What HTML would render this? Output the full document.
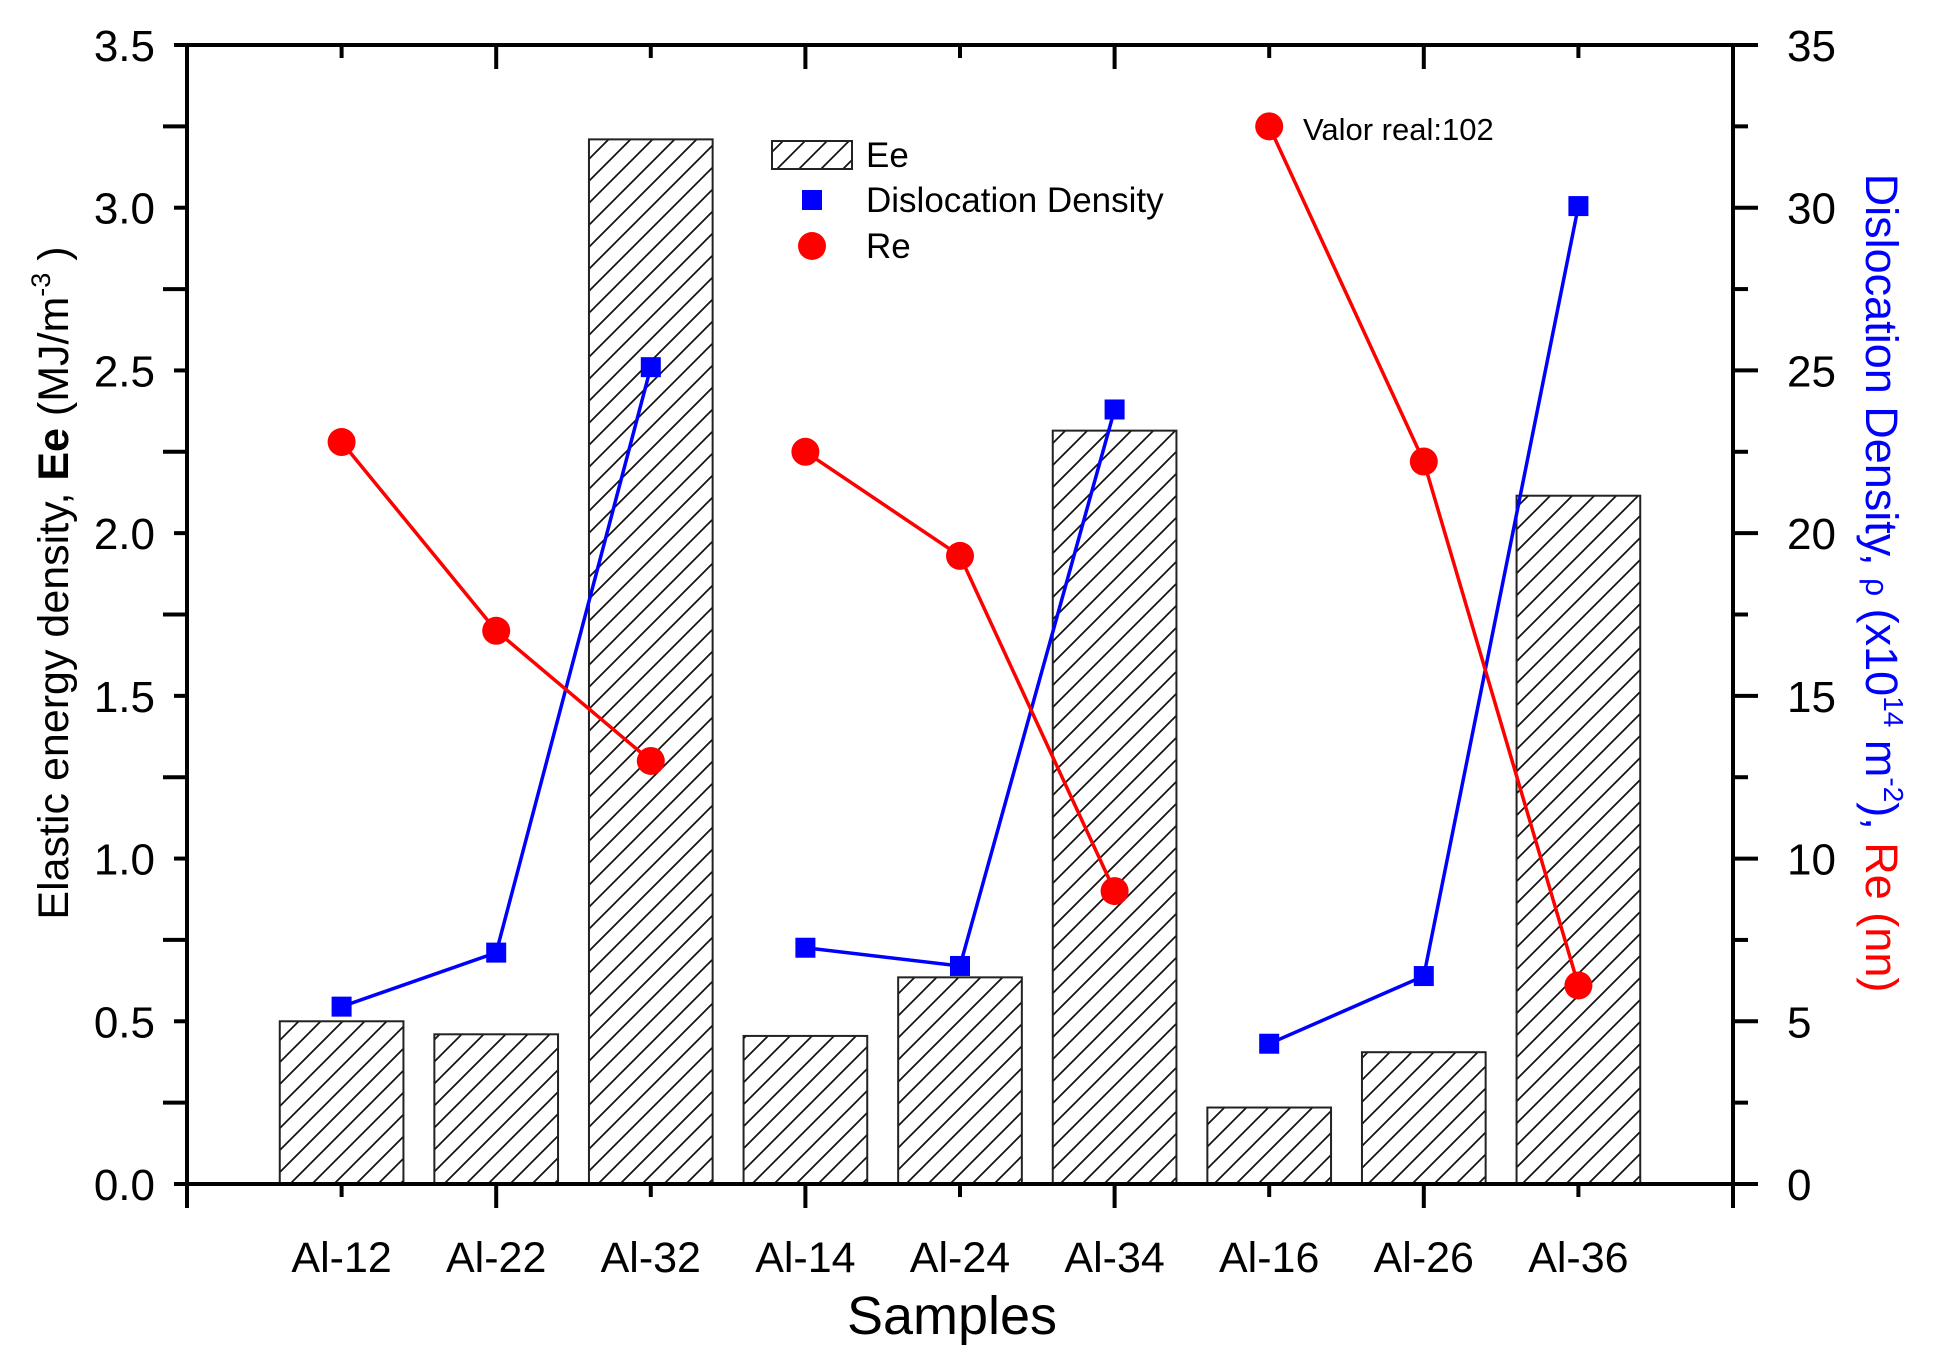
<!DOCTYPE html>
<html><head><meta charset="utf-8"><style>
html,body{margin:0;padding:0;background:#fff;}
svg{display:block;font-family:"Liberation Sans",Arial,sans-serif;}
</style></head><body>
<svg id="chart" width="1934" height="1371" viewBox="0 0 1934 1371" xmlns="http://www.w3.org/2000/svg">
<defs>
<pattern id="hatch" patternUnits="userSpaceOnUse" width="22" height="22">
<path d="M-2,2 L2,-2 M0,22 L22,0 M20,24 L24,20" stroke="#111" stroke-width="1.7"/>
</pattern>
</defs>
<g id="bars"></g>
<g id="lines"></g>
<g id="axes"></g>
<g id="legend">
<rect x="772" y="141" width="80" height="28" fill="url(#hatch)" stroke="#222" stroke-width="2"/>
<text x="866" y="167" font-size="35">Ee</text>
<rect x="802" y="190" width="20" height="20" fill="#0000ff"/>
<text x="866" y="212" font-size="35">Dislocation Density</text>
<circle cx="812" cy="246" r="14" fill="#ff0000"/>
<text x="866" y="258" font-size="35">Re</text>
</g>
<text x="1303" y="140" font-size="31">Valor real:102</text>
<text x="952" y="1334" font-size="54" text-anchor="middle">Samples</text>
<text transform="translate(68,583) rotate(-90)" font-size="43" text-anchor="middle">Elastic energy density, <tspan font-weight="bold">Ee</tspan> (MJ/m<tspan font-size="27" dy="-18">-3</tspan><tspan dy="18"> )</tspan></text>
<text transform="translate(1866,583) rotate(90)" font-size="45" text-anchor="middle"><tspan fill="#0000ff">Dislocation Density, <tspan font-size="32">ρ</tspan> (x10<tspan font-size="28" dy="-18">14</tspan><tspan dy="18"> m</tspan><tspan font-size="28" dy="-18">-2</tspan><tspan dy="18">), </tspan></tspan><tspan fill="#ff0000">Re (nn)</tspan></text>
</svg>
<script>
const categories = ["Al-12","Al-22","Al-32","Al-14","Al-24","Al-34","Al-16","Al-26","Al-36"];
const eeValues = [0.50,0.46,3.21,0.455,0.635,2.315,0.235,0.405,2.115];
const ddValues = [5.45,7.11,25.1,7.26,6.70,23.8,4.31,6.39,30.05];
const reValues = [22.8,17.0,13.0,22.5,19.3,9.0,32.5,22.2,6.1];
const groups = [[0,1,2],[3,4,5],[6,7,8]];
const leftTicks = ["0.0","0.5","1.0","1.5","2.0","2.5","3.0","3.5"];
const rightTicks = ["0","5","10","15","20","25","30","35"];

const X0=187,X1=1733,Y0=1184,Y1=45;
const NS="http://www.w3.org/2000/svg";
function xs(i){return X0+(i)*(X1-X0)/10;}
function yl(v){return Y0-v*(Y0-Y1)/3.5;}
function yr(v){return Y0-v*(Y0-Y1)/35;}
function mk(tag,attrs,parent){const e=document.createElementNS(NS,tag);for(const k in attrs)e.setAttribute(k,attrs[k]);parent.appendChild(e);return e;}
const bars=document.getElementById('bars'),lines=document.getElementById('lines'),axes=document.getElementById('axes');
const bw=0.8*(X1-X0)/10;
eeValues.forEach((v,i)=>{
  const cx=xs(i+1);
  const r=mk('rect',{x:cx-bw/2,y:yl(v),width:bw,height:Y0-yl(v),fill:'url(#hatch)',stroke:'#222','stroke-width':2},bars);
  
  
});
groups.forEach((g,gi)=>{
  const pb=mk('polyline',{points:g.map(i=>xs(i+1)+','+yr(ddValues[i])).join(' '),fill:'none',stroke:'#0000ff','stroke-width':3.5},lines);
  
  
  const pr=mk('polyline',{points:g.map(i=>xs(i+1)+','+yr(reValues[i])).join(' '),fill:'none',stroke:'#ff0000','stroke-width':3.5},lines);
  
  
});
ddValues.forEach((v,i)=>{
  const s=mk('rect',{x:xs(i+1)-10,y:yr(v)-10,width:20,height:20,fill:'#0000ff'},lines);
  
  
});
reValues.forEach((v,i)=>{
  const c=mk('circle',{cx:xs(i+1),cy:yr(v),r:14,fill:'#ff0000'},lines);
  
  
});
const fr=mk('rect',{x:X0,y:Y1,width:X1-X0,height:Y0-Y1,fill:'none',stroke:'#000','stroke-width':4},axes);


for(let i=0;i<=10;i++){
  const x=xs(i),len=(i%2===0)?24:13;
  mk('line',{x1:x,y1:Y0,x2:x,y2:Y0+len,stroke:'#000','stroke-width':4},axes);
  mk('line',{x1:x,y1:Y1,x2:x,y2:Y1+len,stroke:'#000','stroke-width':4},axes);
}
categories.forEach((c,i)=>{
  const t=mk('text',{x:xs(i+1),y:1272,'font-size':43,'text-anchor':'middle'},axes);
  t.textContent=c;
  
  
});
for(let k=0;k<=14;k++){
  const y=yl(k*0.25),len=(k%2===0)?13:24;
  mk('line',{x1:X0-len,y1:y,x2:X0,y2:y,stroke:'#000','stroke-width':4},axes);
}
leftTicks.forEach((s,i)=>{
  const t=mk('text',{x:X0-32,y:yl(i*0.5)+16,'font-size':44,'text-anchor':'end'},axes);
  t.textContent=s;
  
  
});
for(let k=0;k<=14;k++){
  const y=yr(k*2.5),len=(k%2===0)?25:15;
  mk('line',{x1:X1,y1:y,x2:X1+len,y2:y,stroke:'#000','stroke-width':4},axes);
}
rightTicks.forEach((s,i)=>{
  const t=mk('text',{x:1787,y:yr(i*5)+16,'font-size':44,'text-anchor':'start'},axes);
  t.textContent=s;
  
  
});
</script>
</body></html>
